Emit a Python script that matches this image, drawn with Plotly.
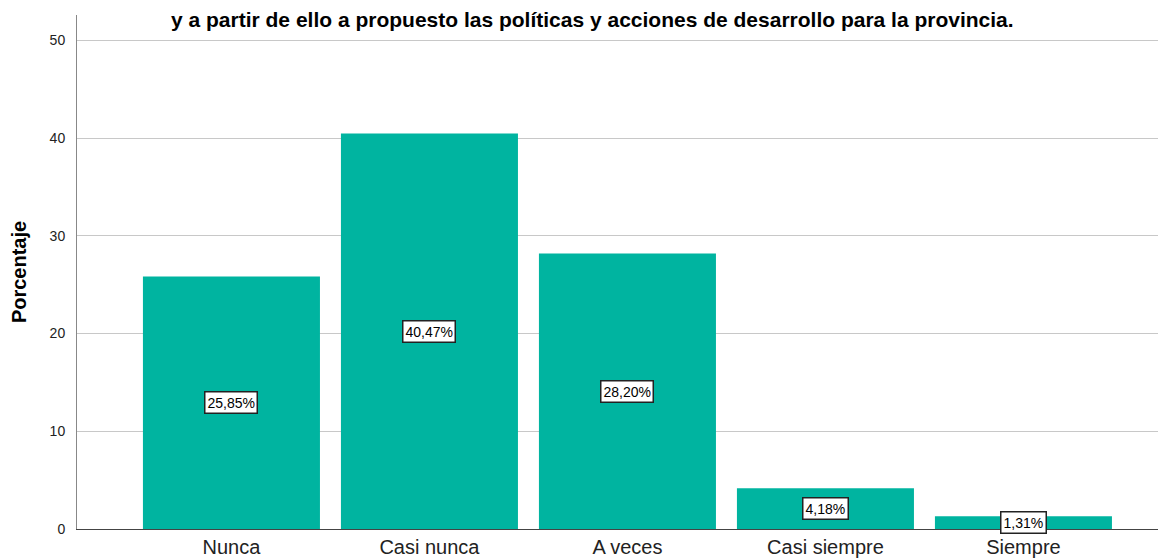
import plotly.graph_objects as go

categories = ["Nunca", "Casi nunca", "A veces", "Casi siempre", "Siempre"]
values = [25.85, 40.47, 28.20, 4.18, 1.31]
labels = ["25,85%", "40,47%", "28,20%", "4,18%", "1,31%"]
title_text = "y a partir de ello a propuesto las políticas y acciones de desarrollo para la provincia."
y_title = "Porcentaje"
y_ticks = [0, 10, 20, 30, 40, 50]

xs = list(range(len(categories)))

fig = go.Figure()
fig.add_trace(go.Bar(
    x=xs, y=values, width=0.894,
    marker=dict(color="#00B4A0", line=dict(width=0)),
    hoverinfo="skip",
))

for x, v, lab in zip(xs, values, labels):
    fig.add_annotation(
        x=x, y=v / 2, xref="x", yref="y", text=lab, showarrow=False,
        font=dict(family="Liberation Sans, Arial", size=14, color="black"),
        bgcolor="white", bordercolor="#222222", borderwidth=1.5, borderpad=2,
    )

fig.add_annotation(
    x=0.473, y=1.0 - 5 / 514, xref="paper", yref="paper", text="<b>" + title_text + "</b>",
    showarrow=False, xanchor="center", yanchor="middle",
    font=dict(family="Liberation Sans, Arial", size=21, color="black"),
)

fig.update_layout(
    width=1158, height=552,
    margin=dict(l=69, r=0, t=7, b=31),
    paper_bgcolor="white", plot_bgcolor="white",
    showlegend=False,
    font=dict(family="Liberation Sans, Arial", color="black"),
    xaxis=dict(
        range=[-0.78, 4.72], tickmode="array", tickvals=xs, ticktext=categories,
        tickfont=dict(size=20, color="#222222"), showgrid=False, zeroline=False,
        showline=True, linecolor="#444444", linewidth=1, automargin=False,
        ticks="", ticklen=0,
    ),
    yaxis=dict(
        range=[0, 52.6], tickmode="array", tickvals=y_ticks, automargin=False,
        tickfont=dict(size=14, color="#222222"), showgrid=True, gridcolor="#c8c8c8",
        gridwidth=1, zeroline=False, showline=True, linecolor="#888888", linewidth=1,
        ticks="outside", ticklen=8, tickcolor="rgba(0,0,0,0)",
        title=dict(text="<b>" + y_title + "</b>", font=dict(size=20, color="black"), standoff=22),
    ),
)

fig.write_html("out.html")
